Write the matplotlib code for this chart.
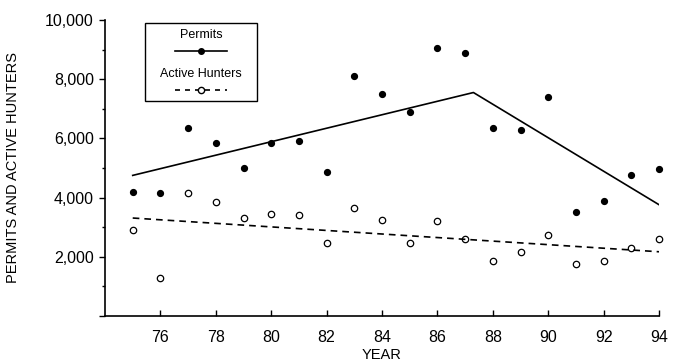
import matplotlib
matplotlib.use('Agg')
import matplotlib.pyplot as plt
from matplotlib.lines import Line2D
from matplotlib.patches import Rectangle
from matplotlib.ticker import MultipleLocator, FuncFormatter

# data
years = [75, 76, 77, 78, 79, 80, 81, 82, 83, 84, 85, 86, 87, 88, 89, 90, 91, 92, 93, 94]
permits = [4200, 4150, 6350, 5850, 5000, 5850, 5900, 4850, 8100, 7500,
           6900, 9050, 8900, 6350, 6300, 7400, 3500, 3900, 4750, 4950]
hunters = [2900, 1300, 4150, 3850, 3300, 3450, 3400, 2450, 3650, 3250,
           2450, 3200, 2600, 1850, 2150, 2750, 1750, 1850, 2300, 2600]

# fitted trend lines
permits_fit_x = [75, 87.3, 94]
permits_fit_y = [4750, 7550, 3760]
hunters_fit_x = [75, 94]
hunters_fit_y = [3310, 2170]

plt.rcParams['font.family'] = ['Liberation Sans', 'DejaVu Sans']

fig = plt.figure(figsize=(6.81, 3.63), dpi=100, facecolor='white')
ax = fig.add_axes([0.1542, 0.1295, 0.8135, 0.8154])

ax.plot(years, permits, 'o', color='black', markersize=4.2, linestyle='none',
        clip_on=False)
ax.plot(years, hunters, 'o', markerfacecolor='white', markeredgecolor='black',
        markeredgewidth=0.9, markersize=4.6, linestyle='none', clip_on=False)
ax.plot(permits_fit_x, permits_fit_y, '-', color='black', linewidth=1.2)
ax.plot(hunters_fit_x, hunters_fit_y, '--', color='black', linewidth=1.2,
        dashes=(4, 3))

ax.set_xlim(74, 94)
ax.set_ylim(0, 10000)
ax.set_xticks(range(76, 95, 2))
ax.set_xticklabels([str(y) for y in range(76, 95, 2)])
ax.yaxis.set_major_locator(MultipleLocator(2000))
ax.yaxis.set_minor_locator(MultipleLocator(1000))
ax.yaxis.set_major_formatter(FuncFormatter(lambda v, p: '' if v == 0 else f'{int(v):,}'))

for s in ['top', 'right']:
    ax.spines[s].set_visible(False)
for s in ['left', 'bottom']:
    ax.spines[s].set_linewidth(1.2)

ax.tick_params(axis='x', direction='in', length=4, width=1, labelsize=11.5, pad=10)
ax.tick_params(axis='y', which='major', direction='out', length=4, width=1,
               labelsize=11.5, pad=4)
ax.tick_params(axis='y', which='minor', direction='out', length=2.5, width=1)

ax.set_xlabel('YEAR', fontsize=10.5, labelpad=2)
ax.set_ylabel('PERMITS AND ACTIVE HUNTERS', fontsize=10.5, labelpad=18)

# legend box drawn by hand (labels above their line samples)
tr = ax.transAxes
ax.add_patch(Rectangle((0.072, 0.725), 0.203, 0.265, transform=tr,
                       facecolor='white', edgecolor='black', linewidth=1.0, zorder=5))
ax.text(0.173, 0.95, 'Permits', transform=tr, ha='center', va='center',
        fontsize=9, zorder=6)
ax.add_line(Line2D([0.126, 0.173, 0.220], [0.894, 0.894, 0.894], transform=tr,
                   color='black', linewidth=1.2, marker='o', markersize=4,
                   markevery=[1], zorder=6))
ax.text(0.173, 0.817, 'Active Hunters', transform=tr, ha='center', va='center',
        fontsize=9, zorder=6)
ax.add_line(Line2D([0.126, 0.173, 0.220], [0.765, 0.765, 0.765], transform=tr,
                   color='black', linewidth=1.2, linestyle='--', dashes=(3, 3),
                   marker='o', markersize=4.5, markerfacecolor='white',
                   markeredgecolor='black', markevery=[1], zorder=6))

fig.savefig('out.png', dpi=100, facecolor='white')
